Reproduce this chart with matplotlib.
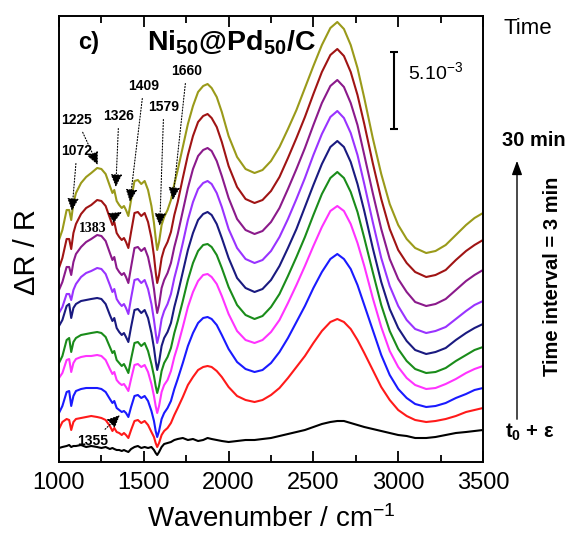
import matplotlib
matplotlib.use("Agg")
import matplotlib.pyplot as plt
from matplotlib.ticker import MultipleLocator

plt.rcParams['font.family'] = ['Liberation Sans', 'DejaVu Sans']
plt.rcParams['mathtext.fontset'] = 'custom'
plt.rcParams['mathtext.rm'] = 'Liberation Sans'
plt.rcParams['mathtext.it'] = 'Liberation Sans:italic'
plt.rcParams['mathtext.bf'] = 'Liberation Sans:bold'

# Wavenumber grid (cm-1)
wavenumber = [1000, 1020, 1045, 1060, 1072, 1085, 1100, 1130, 1160, 1190,
              1225, 1250, 1275, 1300, 1315, 1326, 1340, 1355, 1370, 1383,
              1395, 1409, 1425, 1445, 1465, 1485, 1505, 1525, 1545, 1560,
              1570, 1579, 1590, 1605, 1620, 1640, 1660, 1680, 1700, 1730,
              1760, 1790, 1820, 1850, 1876, 1900, 1930, 1960, 2000, 2050,
              2100, 2153, 2200, 2250, 2300, 2350, 2400, 2450, 2500, 2550,
              2600, 2641, 2680, 2720, 2760, 2800, 2850, 2900, 2950, 3000,
              3050, 3100, 3165, 3220, 3280, 3340, 3400, 3450, 3500]

# Stacked spectra (offset dR/R, units: 77 units = 5e-3)
t0_black = [14, 15, 16, 17, 15, 16, 16, 17, 15, 16,
            15, 14, 15, 13, 14, 13, 12, 12, 11, 12,
            11, 10, 13, 15, 16, 14, 15, 14, 15, 12,
            9, 7, 10, 15, 18, 19, 20, 22, 23, 24,
            22, 23, 21, 22, 24, 23, 22, 21, 20, 21,
            22, 22, 23, 24, 26, 28, 30, 32, 35, 38,
            40, 41, 41, 39, 37, 35, 33, 31, 29, 27,
            26, 24, 24, 25, 27, 29, 30, 31, 32]
t1_red = [33, 40, 43, 42, 32, 40, 43, 44, 45, 46,
          45, 44, 42, 36, 31, 34, 30, 29, 27, 29,
          27, 24, 32, 41, 42, 39, 41, 37, 30, 25,
          19, 15, 19, 27, 31, 34, 39, 47, 54, 65,
          77, 85, 92, 95, 96, 95, 91, 85, 75, 66,
          62, 60, 62, 67, 74, 84, 95, 106, 119, 131,
          140, 143, 140, 133, 122, 109, 92, 75, 62, 52,
          46, 42, 40, 41, 43, 46, 50, 52, 54]
t2_blue = [49, 56, 70, 71, 56, 66, 71, 73, 74, 74,
           74, 73, 70, 63, 59, 61, 54, 52, 50, 51,
           49, 45, 55, 66, 67, 64, 66, 61, 51, 41,
           31, 25, 31, 43, 49, 54, 61, 73, 83, 99,
           116, 129, 139, 144, 145, 143, 137, 127, 113, 100,
           93, 90, 92, 99, 110, 124, 140, 156, 174, 190,
           203, 208, 203, 193, 177, 157, 132, 107, 87, 73,
           64, 58, 55, 56, 59, 64, 68, 72, 74]
t3_magenta = [84, 89, 102, 103, 90, 99, 103, 105, 106, 106,
              107, 106, 102, 93, 88, 90, 82, 79, 77, 78,
              75, 71, 83, 97, 98, 95, 97, 90, 78, 66,
              56, 49, 56, 70, 77, 82, 91, 105, 116, 135,
              155, 170, 181, 187, 188, 185, 178, 166, 148, 131,
              122, 119, 122, 130, 142, 159, 177, 196, 216, 235,
              251, 256, 251, 238, 219, 196, 164, 135, 111, 95,
              84, 77, 73, 74, 78, 83, 89, 93, 96]
t4_green = [99, 106, 122, 124, 110, 120, 124, 127, 128, 129,
            130, 129, 125, 115, 109, 111, 102, 99, 96, 98,
            94, 89, 103, 119, 120, 116, 119, 111, 98, 86,
            76, 69, 76, 91, 99, 105, 114, 129, 141, 161,
            182, 199, 211, 217, 218, 215, 207, 194, 175, 157,
            147, 143, 146, 155, 168, 186, 205, 225, 247, 268,
            284, 290, 284, 270, 250, 224, 190, 157, 131, 113,
            101, 93, 89, 90, 94, 101, 107, 112, 115]
t5_navy = [136, 142, 156, 158, 144, 154, 158, 161, 162, 163,
           164, 163, 158, 147, 141, 144, 134, 130, 127, 129,
           125, 120, 135, 152, 153, 149, 152, 144, 129, 114,
           101, 92, 100, 116, 124, 130, 139, 155, 168, 190,
           212, 229, 242, 248, 250, 247, 238, 224, 204, 184,
           174, 170, 173, 182, 196, 214, 233, 255, 277, 298,
           315, 321, 315, 300, 278, 251, 214, 180, 153, 134,
           121, 112, 108, 110, 114, 122, 129, 134, 138]
t6_violet = [149, 155, 168, 168, 162, 172, 178, 185, 189, 191,
             194, 193, 188, 177, 170, 173, 163, 159, 156, 158,
             154, 148, 164, 182, 183, 179, 182, 173, 158, 142,
             129, 119, 127, 143, 151, 158, 168, 184, 197, 219,
             242, 260, 273, 279, 281, 278, 269, 255, 233, 214,
             203, 199, 202, 211, 225, 243, 263, 284, 307, 328,
             345, 351, 344, 329, 307, 278, 240, 204, 176, 156,
             142, 133, 129, 131, 135, 143, 151, 157, 161]
t7_purple = [172, 180, 195, 195, 187, 200, 208, 215, 220, 223,
             227, 226, 221, 209, 202, 205, 194, 190, 187, 189,
             185, 179, 195, 214, 215, 211, 214, 205, 189, 173,
             159, 149, 157, 174, 182, 189, 199, 215, 228, 251,
             274, 293, 306, 312, 314, 311, 301, 286, 264, 243,
             232, 228, 231, 240, 254, 273, 293, 314, 337, 359,
             376, 382, 375, 359, 337, 307, 269, 233, 203, 183,
             170, 160, 156, 158, 163, 172, 181, 187, 192]
t8_darkred = [194, 204, 223, 223, 213, 229, 238, 248, 254, 257,
              262, 261, 256, 244, 237, 240, 229, 225, 222, 224,
              220, 214, 230, 249, 250, 246, 249, 240, 224, 206,
              190, 179, 187, 204, 213, 220, 230, 247, 260, 284,
              307, 326, 340, 346, 348, 344, 335, 320, 296, 275,
              263, 259, 262, 271, 285, 304, 324, 345, 368, 390,
              407, 413, 406, 390, 367, 338, 299, 263, 233, 212,
              199, 190, 185, 187, 192, 202, 211, 217, 222]
t9_olive = [222, 232, 252, 252, 242, 259, 269, 279, 285, 289,
            294, 293, 288, 276, 269, 272, 261, 257, 254, 256,
            252, 246, 262, 281, 282, 278, 281, 272, 256, 239,
            224, 212, 220, 237, 245, 252, 262, 278, 292, 315,
            338, 356, 370, 376, 378, 374, 365, 350, 326, 305,
            293, 289, 292, 301, 315, 333, 352, 374, 396, 417,
            434, 440, 433, 417, 394, 364, 324, 288, 258, 237,
            223, 214, 209, 211, 217, 227, 237, 244, 249]

series = [t0_black, t1_red, t2_blue, t3_magenta, t4_green,
          t5_navy, t6_violet, t7_purple, t8_darkred, t9_olive]
colors = ['#000000', '#ff1a1a', '#1a1aff', '#ff33ff', '#1a8c1a',
          '#1a1a80', '#9933ff', '#8b1a8b', '#a01414', '#9a9a1a']

# Band annotations: label, tip wavenumber, tip height, text wavenumber, text height
band_labels = ['1225', '1072', '1326', '1409', '1579', '1660', '1383', '1355']
band_tip_x = [1229, 1076, 1335, 1418, 1594, 1671, 1371, 1359]
band_tip_y = [297, 251, 275, 260, 236, 262, 250, 47]
band_txt_x = [1106, 1106, 1353, 1500, 1618, 1753, 1200, 1200]
band_txt_y = [342, 311, 346, 376, 355, 391, 234, 21]

SCALE_BAR = 77  # = 5e-3

fig = plt.figure(figsize=(5.73, 5.5), dpi=100)
ax = fig.add_axes([59/573, 88/550, 424/573, 446/550])

for ys, c in zip(series, colors):
    ax.plot(wavenumber, ys, color=c, lw=1.5)

ax.set_xlim(1000, 3500)
ax.set_ylim(0, 446)
ax.set_yticks([])
ax.xaxis.set_major_locator(MultipleLocator(500))
ax.xaxis.set_minor_locator(MultipleLocator(250))
ax.tick_params(axis='x', which='both', direction='in', top=True, labelsize=17, pad=7)
ax.tick_params(axis='x', which='major', length=8, width=1.3)
ax.tick_params(axis='x', which='minor', length=5, width=1.3)
for s in ax.spines.values():
    s.set_linewidth(1.4)

ax.set_xlabel('Wavenumber / cm$^{-1}$', fontsize=20, labelpad=8)
fig.text(27/573, 1 - 252/550, 'ΔR / R', rotation=90, fontsize=21,
         ha='center', va='center')

# panel labels
fig.text(89/573, 1 - 43/550, 'c)', fontsize=17, fontweight='bold', ha='center', va='center')
fig.text(231/573, 1 - 43/550, r'Ni$_{\mathbf{50}}$@Pd$_{\mathbf{50}}$/C',
         fontsize=20.5, fontweight='bold', ha='center', va='center')

# band annotations
for i, lab in enumerate(band_labels):
    fam = 'Liberation Serif' if lab == '1383' else 'Liberation Sans'
    ax.annotate(lab, xy=(band_tip_x[i], band_tip_y[i]),
                xytext=(band_txt_x[i], band_txt_y[i]),
                ha='center', va='center', fontsize=10, fontweight='bold',
                family=fam,
                arrowprops=dict(arrowstyle='-|>,head_length=0.55,head_width=0.25',
                                linestyle=':', lw=0.8, color='black', fc='black',
                                mutation_scale=14, shrinkA=2, shrinkB=0))

# scale bar
ax.errorbar([2978], [446 - 36 - SCALE_BAR / 2], yerr=[SCALE_BAR / 2], fmt='none',
            ecolor='black', elinewidth=1.5, capsize=3, capthick=1.5)
fig.text(408/573, 1 - 72/550, '5.10$^{-3}$', fontsize=14, ha='left', va='center')

# right-side time annotations
fig.text(528/573, 1 - 28/550, 'Time', fontsize=16, ha='center', va='center')
fig.text(534/573, 1 - 140/550, '30 min', fontsize=14.5, fontweight='bold',
         ha='center', va='center')
fig.text(553/573, 1 - 276/550, 'Time interval = 3 min', fontsize=14.5,
         fontweight='bold', rotation=90, ha='center', va='center')
fig.text(530/573, 1 - 432/550, r't$_{\mathbf{0}}$ + ε', fontsize=14.5,
         fontweight='bold', ha='center', va='center')
fig.add_artist(matplotlib.patches.FancyArrowPatch(
    (517/573, 1 - 422/550), (517/573, 1 - 158/550), transform=fig.transFigure,
    arrowstyle='-|>,head_length=0.6,head_width=0.22', mutation_scale=14,
    lw=1.0, color='black'))

fig.savefig('out.png', dpi=100)
